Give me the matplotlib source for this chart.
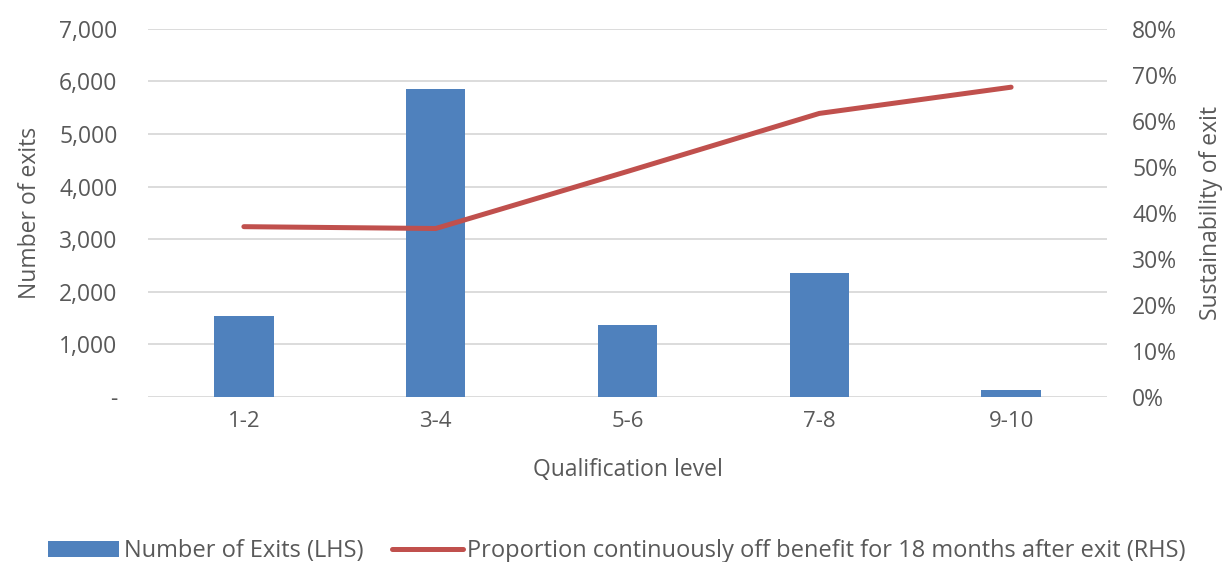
import matplotlib.pyplot as plt
from matplotlib.ticker import FuncFormatter, MultipleLocator

plt.rcParams["font.family"] = ["Open Sans", "DejaVu Sans"]

levels = ["1-2", "3-4", "5-6", "7-8", "9-10"]
exits = [1535, 5850, 1365, 2350, 125]
off_benefit_pct = [37.0, 36.6, 49.0, 61.6, 67.3]

BAR_COLOR = "#4F81BD"
LINE_COLOR = "#C0504D"
TEXT_COLOR = "#595959"
GRID_COLOR = "#D9D9D9"

fig = plt.figure(figsize=(12.22, 5.62), dpi=100)
ax = fig.add_axes([0.1211, 0.2936, 0.7848, 0.6553])
ax2 = ax.twinx()

x = range(len(levels))
bars = ax.bar(x, exits, width=0.31, color=BAR_COLOR, zorder=2,
              label="Number of Exits (LHS)")
line, = ax2.plot(x, off_benefit_pct, color=LINE_COLOR, lw=3.6,
                 solid_capstyle="round", solid_joinstyle="round",
                 label="Proportion continuously off benefit for 18 months after exit (RHS)")

ax.set_xlim(-0.5, len(levels) - 0.5)
ax.set_ylim(0, 7000)
ax2.set_ylim(0, 80)
ax.yaxis.set_major_locator(MultipleLocator(1000))
ax2.yaxis.set_major_locator(MultipleLocator(10))
ax.yaxis.set_major_formatter(FuncFormatter(lambda v, _: "-" if v == 0 else f"{v:,.0f}"))
ax2.yaxis.set_major_formatter(FuncFormatter(lambda v, _: f"{v:.0f}%"))

ax.set_xticks(list(x))
ax.set_xticklabels(levels)
ax.grid(axis="y", color=GRID_COLOR, lw=1.3, zorder=0)
ax.set_axisbelow(True)

for a in (ax, ax2):
    for s in a.spines.values():
        s.set_visible(False)
    a.tick_params(length=0, colors=TEXT_COLOR, labelsize=16.5)
ax.tick_params(axis="y", pad=22)
ax.tick_params(axis="x", pad=10, labelsize=16)
ax2.tick_params(axis="y", pad=18)

ax.set_xlabel("Qualification level", color=TEXT_COLOR, fontsize=16.5, labelpad=19)
ax.set_ylabel("Number of exits", color=TEXT_COLOR, fontsize=16.5, labelpad=12)
ax2.set_ylabel("Sustainability of exit", color=TEXT_COLOR, fontsize=16.5, labelpad=16)

fig.legend(handles=[bars, line], loc="lower center", bbox_to_anchor=(0.505, -0.04),
           ncol=2, frameon=False, fontsize=17, labelcolor=TEXT_COLOR,
           handlelength=3.0, handletextpad=0.2, columnspacing=1.2)

fig.savefig("out.png", dpi=100)
